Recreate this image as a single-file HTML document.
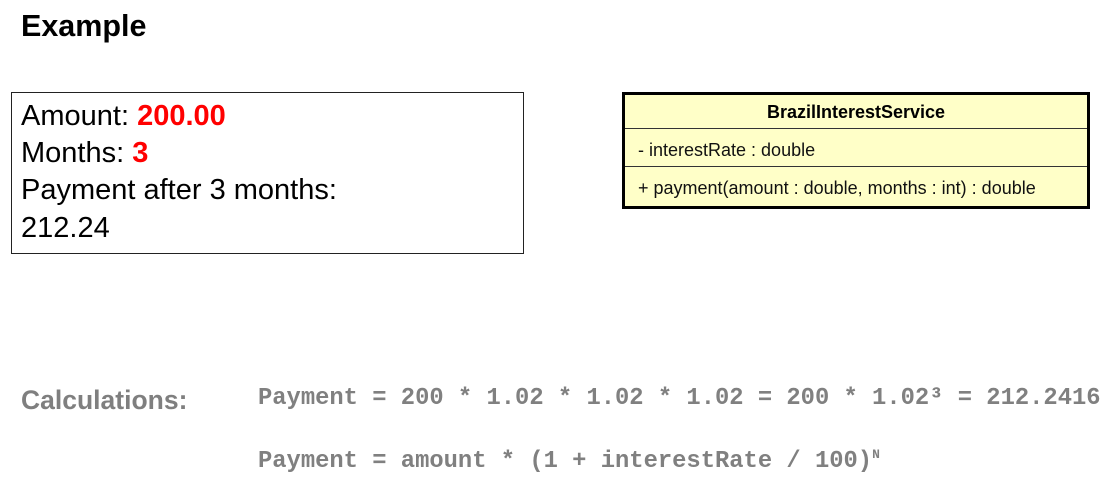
<!DOCTYPE html>
<html><head><meta charset="utf-8"><style>
body{margin:0;width:1114px;height:485px;background:#fff;position:relative;overflow:hidden;font-family:"Liberation Sans",sans-serif}
.t{position:absolute;white-space:nowrap;line-height:1}
.r{color:#f00;font-weight:bold}
.m{font-family:"Liberation Mono",monospace;font-weight:bold;color:#808080;font-size:23.8px}
</style></head><body>
<div class="t" style="left:21px;top:11px;font-size:30.5px;font-weight:bold">Example</div>
<div style="position:absolute;left:11px;top:92px;width:511px;height:160px;border:1px solid #222"></div>
<div class="t" style="left:21px;top:102px;font-size:29px">Amount: <span class="r">200.00</span></div>
<div class="t" style="left:21px;top:139px;font-size:29px">Months: <span class="r">3</span></div>
<div class="t" style="left:21px;top:176px;font-size:29px">Payment after 3 months:</div>
<div class="t" style="left:21px;top:214px;font-size:29px">212.24</div>

<div style="position:absolute;left:622px;top:92px;width:462px;height:111px;border:3px solid #000;background:#ffffc8"></div>
<div style="position:absolute;left:625px;top:128px;width:462px;height:1px;background:#333"></div>
<div style="position:absolute;left:625px;top:166px;width:462px;height:1px;background:#333"></div>
<div class="t" style="left:625px;width:462px;text-align:center;top:103px;font-size:18px;font-weight:bold">BrazilInterestService</div>
<div class="t" style="left:638px;top:141px;font-size:18px;color:#111">- interestRate : double</div>
<div class="t" style="left:638px;top:179px;font-size:18px;color:#111">+ payment(amount : double, months : int) : double</div>

<div class="t" style="left:21px;top:387px;font-size:26.5px;font-weight:bold;color:#7f7f7f">Calculations:</div>
<div class="t m" style="left:258px;top:387px">Payment = 200 * 1.02 * 1.02 * 1.02 = 200 * 1.02³ = 212.2416</div>
<div class="t m" style="left:258px;top:448px">Payment = amount * (1 + interestRate / 100)<sup style="font-size:13px">N</sup></div>
</body></html>
